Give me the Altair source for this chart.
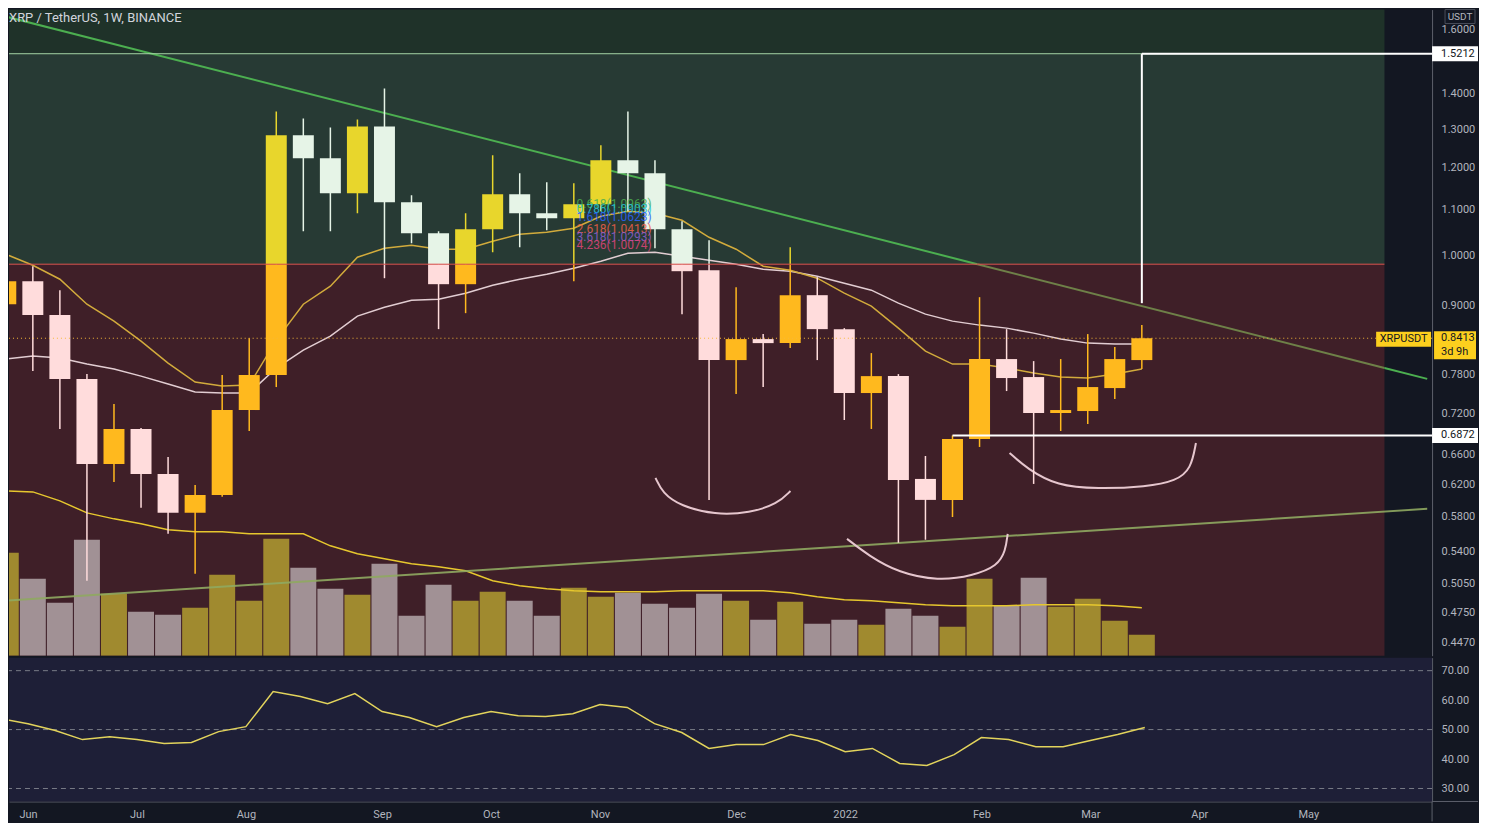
import math
import pandas as pd
import altair as alt

# ---------------- values ----------------
TITLE = "XRP / TetherUS, 1W, BINANCE"
FIRST_WEEK = "2021-05-31"          # weekly candles, Monday open

opens = [0.9031, 0.9474, 0.8828, 0.7727, 0.6476, 0.6965, 0.6342, 0.5849, 0.6072, 0.7245,
         0.7792, 1.2834, 1.2235, 1.1376, 1.3076, 1.1165, 1.0468, 0.9415, 1.0556, 1.1352,
         1.0912, 1.0799, 1.1118, 1.2184, 1.1859, 1.0556, 0.9693, 0.8039, 0.8398, 0.8328,
         0.9202, 0.8574, 0.7506, 0.7775, 0.6277, 0.6009, 0.6821, 0.8056, 0.7760, 0.7200,
         0.7230, 0.7584, 0.8039]
highs = [0.9633, 0.9774, 0.9298, 0.7808, 0.7336, 0.6979, 0.6571, 0.6199, 0.7792, 0.8415,
         1.3490, 1.3295, 1.3049, 1.3267, 1.4151, 1.1328, 1.0512, 1.0912, 1.2311, 1.1859,
         1.1639, 1.1615, 1.2570, 1.3490, 1.2184, 1.0732, 1.0317, 0.9356, 0.8486, 1.0168,
         0.9553, 0.8592, 0.8157, 0.7808, 0.6584, 0.6872, 0.9164, 0.8574, 0.8022, 0.8056,
         0.8486, 0.8259, 0.8646]
lows = [0.8901, 0.7857, 0.6965, 0.5077, 0.6238, 0.5910, 0.5599, 0.5152, 0.6047, 0.6936,
        0.7600, 1.0512, 1.0512, 1.0912, 0.9533, 1.0252, 0.8574, 0.8864, 1.0063, 1.0168,
        1.0534, 0.9474, 1.0958, 1.0958, 1.0147, 0.8846, 0.6009, 0.7490, 0.7600, 0.8242,
        0.8039, 0.7096, 0.6965, 0.5495, 0.5530, 0.5800, 0.6709, 0.7537, 0.6212, 0.6936,
        0.7037, 0.7413, 0.7890]
closes = [0.9474, 0.8828, 0.7727, 0.6476, 0.6965, 0.6342, 0.5849, 0.6072, 0.7245, 0.7792,
          1.2834, 1.2235, 1.1376, 1.3076, 1.1165, 1.0468, 0.9415, 1.0556, 1.1352, 1.0912,
          1.0799, 1.1118, 1.2184, 1.1859, 1.0556, 0.9673, 0.8039, 0.8398, 0.8328, 0.9202,
          0.8574, 0.7506, 0.7775, 0.6264, 0.6009, 0.6821, 0.8056, 0.7744, 0.7200, 0.7245,
          0.7600, 0.8056, 0.8413]
volumes = [2575, 1925, 1325, 2900, 1550, 1100, 1025, 1200, 2025, 1375,
           2925, 2200, 1675, 1525, 2300, 1000, 1775, 1375, 1600, 1375,
           1000, 1700, 1475, 1575, 1300, 1200, 1550, 1375, 900, 1350,
           800, 900, 775, 1175, 1000, 725, 1925, 1250, 1950, 1225,
           1425, 875, 525]
volume_ma = [4125, 4100, 3875, 3575, 3425, 3300, 3150, 3100, 3100, 3050,
             3050, 3050, 2750, 2550, 2425, 2300, 2225, 2125, 1875, 1750,
             1675, 1625, 1600, 1600, 1600, 1625, 1625, 1625, 1625, 1575,
             1475, 1400, 1375, 1325, 1275, 1250, 1250, 1250, 1275, 1275,
             1275, 1250, 1200]
ema_fast = [1.0021, 0.9794, 0.9513, 0.9031, 0.8718, 0.8363, 0.7989, 0.7680, 0.7616, 0.7632,
            0.8380, 0.9031, 0.9376, 0.9958, 1.0147, 1.0210, 1.0126, 1.0126, 1.0295, 1.0446,
            1.0490, 1.0577, 1.0845, 1.0958, 1.0912, 1.0755, 1.0381, 1.0126, 0.9774, 0.9693,
            0.9533, 0.9240, 0.8994, 0.8592, 0.8190, 0.7972, 0.7972, 0.7907, 0.7825, 0.7760,
            0.7744, 0.7808, 0.7890]
ema_slow = [0.8056, 0.8106, 0.8073, 0.7972, 0.7890, 0.7775, 0.7648, 0.7522, 0.7506, 0.7506,
            0.7907, 0.8208, 0.8450, 0.8809, 0.8975, 0.9107, 0.9126, 0.9240, 0.9395, 0.9513,
            0.9613, 0.9733, 0.9876, 1.0042, 1.0063, 0.9979, 0.9897, 0.9815, 0.9713, 0.9673,
            0.9573, 0.9434, 0.9298, 0.9050, 0.8846, 0.8718, 0.8646, 0.8592, 0.8503, 0.8398,
            0.8328, 0.8311, 0.8311]
rsi = [53.7, 52.0, 49.7, 46.6, 47.6, 46.6, 45.3, 45.6, 49.3, 51.0,
       62.9, 61.2, 58.8, 62.2, 56.1, 54.1, 51.0, 54.1, 56.1, 54.7,
       54.4, 55.4, 58.5, 57.5, 52.0, 49.0, 43.6, 44.9, 44.9, 48.3,
       46.3, 42.5, 43.6, 38.5, 37.8, 41.5, 47.3, 46.6, 44.2, 44.2,
       46.3, 48.3, 50.7]

price_ticks = [1.6, 1.4, 1.3, 1.2, 1.1, 1.0, 0.9, 0.78, 0.72, 0.66, 0.62, 0.58,
               0.54, 0.505, 0.475, 0.447]
rsi_ticks = [70, 60, 50, 40, 30]
rsi_levels = [70, 50, 30]
month_ticks = ["2021-06-07", "2021-07-05", "2021-08-02", "2021-09-06", "2021-10-04",
               "2021-11-01", "2021-12-06", "2022-01-03", "2022-02-07", "2022-03-07",
               "2022-04-04", "2022-05-02"]

# drawings (in weeks after FIRST_WEEK, and prices)
zone_lower, zone_upper = 0.9815, 1.5212
zone_weeks = [-1.0, 50.97]
view_weeks = [0.3034, 52.545]
trend_weeks = [0.0, 52.55]
upper_trend = [1.6436, 0.7731]
lower_trend = [0.4871, 0.5898]
measure_week, measure_low = 42, 0.9050
support_week, support_level = 35, 0.6872
last_price = 0.8413
fib_week = 21.10
fib_labels = ["0.618(1.0963)", "0.786(1.0903)", "1.618(1.0623)", "2.618(1.0413)",
              "3.618(1.0293)", "4.236(1.0074)"]
fib_prices = [1.1118, 1.1003, 1.0822, 1.0556, 1.0381, 1.0210]
fib_colors = ["#4caf50", "#26c6da", "#2962ff", "#f0604a", "#8e5fd0", "#e0457a"]
curve_weeks = [[24.02, 24.28, 24.94, 26.22, 27.51, 28.53, 29.01],
               [31.10, 31.91, 33.01, 34.47, 35.75, 36.67, 36.96, 37.04],
               [37.11, 37.77, 38.87, 40.34, 42.17, 43.27, 43.82, 44.00]]
curve_prices = [[0.6290, 0.6097, 0.5934, 0.5824, 0.5849, 0.5959, 0.6122],
                [0.5541, 0.5349, 0.5163, 0.5077, 0.5131, 0.5238, 0.5404, 0.5599],
                [0.6626, 0.6409, 0.6187, 0.6148, 0.6174, 0.6251, 0.6409, 0.6765]]

# colours
BG = "#131722"
AXIS_TXT = "#b2b5be"
DIVIDER = "#5d606b"
FONT = "Roboto"
CANDLE_COLORS = {"up_red": "#ffb91e", "down_red": "#ffdcdc",
                 "up_green": "#e8d62c", "down_green": "#e6f4e7"}
VOL_COLORS = {"up": "#a08a2f", "down": "#a19195"}
TREND_COLORS = ["#4caf50", "#6e8048", "#4caf50"]

# ---------------- helpers ----------------
T0 = pd.Timestamp(FIRST_WEEK, tz="UTC")


def wk_ts(w):
    return T0 + pd.Timedelta(days=7 * w)


def wk(w):
    return wk_ts(w).strftime("%Y-%m-%dT%H:%M:%SZ")


def ms(ts):
    return int(ts.timestamp() * 1000)


W, H1, H2 = 1425, 647, 144

x_scale = alt.Scale(type="utc", domain=[ms(wk_ts(view_weeks[0])), ms(wk_ts(view_weeks[1]))], nice=False)
price_scale = alt.Scale(type="log", domain=[0.43447, 1.6677], nice=False, zero=False)
vol_scale = alt.Scale(domain=[0, 16175], nice=False, zero=True)
rsi_scale = alt.Scale(domain=[25.59, 74.41], nice=False, zero=False)

price_axis = alt.Axis(orient="right", values=price_ticks, format=".4f", title=None, grid=False,
                      ticks=False, labelPadding=9, labelColor=AXIS_TXT, labelFontSize=11,
                      labelFont=FONT, domainColor=DIVIDER, labelOverlap=False, labelFlush=False)
rsi_axis = alt.Axis(orient="right", values=rsi_ticks, format=".2f", title=None, grid=False,
                    ticks=False, labelPadding=9, labelColor=AXIS_TXT, labelFontSize=11,
                    labelFont=FONT, domainColor=DIVIDER, labelOverlap=False, labelFlush=False)
x_axis = alt.Axis(values=[ms(pd.Timestamp(d, tz="UTC")) for d in month_ticks],
                  labelExpr="utcmonth(datum.value) == 0 ? utcFormat(datum.value, '%Y') : utcFormat(datum.value, '%b')",
                  title=None, grid=False, ticks=False, labelPadding=7, labelColor=AXIS_TXT,
                  labelFontSize=11, labelFont=FONT, domainColor=DIVIDER, labelOverlap=False,
                  labelFlush=False)


def PX(field):
    return alt.X(f"{field}:T", scale=x_scale, axis=None)


def PY(field):
    return alt.Y(f"{field}:Q", scale=price_scale, axis=price_axis)


COL = alt.Color("col:N", scale=None)

# ---------------- tables ----------------
n = len(opens)
dates = [wk(i) for i in range(n)]


def split(lo, hi):
    if hi <= zone_lower:
        return [(lo, hi, "red")]
    if lo >= zone_lower:
        return [(lo, hi, "green")]
    return [(lo, zone_lower, "red"), (zone_lower, hi, "green")]


body_rows, wick_rows = [], []
for i in range(n):
    o, h, l, c = opens[i], highs[i], lows[i], closes[i]
    direction = "up" if c >= o else "down"
    for a, b, z in split(min(o, c), max(o, c)):
        body_rows.append(dict(date=dates[i], lo=a, hi=b, col=CANDLE_COLORS[f"{direction}_{z}"]))
    for a, b, z in split(l, h):
        wick_rows.append(dict(date=dates[i], lo=a, hi=b, col=CANDLE_COLORS[f"{direction}_{z}"]))
body_df = pd.DataFrame(body_rows)
wick_df = pd.DataFrame(wick_rows)

vol_df = pd.DataFrame({"date": dates, "volume": volumes, "ma": volume_ma,
                       "col": [VOL_COLORS["up" if closes[i] >= opens[i] else "down"] for i in range(n)]})
ema_df = pd.DataFrame({"date": dates, "fast": ema_fast, "slow": ema_slow})
rsi_df = pd.DataFrame({"date": dates, "rsi": rsi})

zone_df = pd.DataFrame({
    "x0": [wk(zone_weeks[0])] * 3, "x1": [wk(zone_weeks[1])] * 3,
    "lo": [0.40, zone_lower, zone_upper], "hi": [zone_lower, zone_upper, 1.80],
    "col": ["#3f1f28", "#273a34", "#1f3229"]})

# upper trend line, coloured per zone it crosses
t_a, t_b = wk_ts(trend_weeks[0]), wk_ts(trend_weeks[1])
lp0, lp1 = math.log(upper_trend[0]), math.log(upper_trend[1])


def trend_at(t):
    return (t_a + (t_b - t_a) * t).strftime("%Y-%m-%dT%H:%M:%SZ"), math.exp(lp0 + (lp1 - lp0) * t)


t_cross = (math.log(zone_lower) - lp0) / (lp1 - lp0)
t_end = (wk_ts(zone_weeks[1]) - t_a) / (t_b - t_a)
up_rows = []
for k, (s0, s1) in enumerate([(0, t_cross), (t_cross, t_end), (t_end, 1)]):
    for t in (s0, s1):
        d, p = trend_at(t)
        up_rows.append(dict(date=d, price=p, seg=k, col=TREND_COLORS[k]))
upper_df = pd.DataFrame(up_rows)
lower_df = pd.DataFrame({"date": [wk(w) for w in trend_weeks], "price": lower_trend})

curve_rows = []
for k, (ws, ps) in enumerate(zip(curve_weeks, curve_prices)):
    for j, (w, p) in enumerate(zip(ws, ps)):
        curve_rows.append(dict(date=wk(w), price=p, curve=k, order=j))
curve_df = pd.DataFrame(curve_rows)

fib_df = pd.DataFrame({"date": [wk(fib_week)] * len(fib_labels), "price": fib_prices,
                       "label": fib_labels, "col": fib_colors})

hlines_df = pd.DataFrame({
    "x0": [wk(zone_weeks[0]), wk(zone_weeks[0]), wk(measure_week), wk(support_week)],
    "x1": [wk(zone_weeks[1]), wk(zone_weeks[1]), wk(view_weeks[1] + 1), wk(view_weeks[1] + 1)],
    "price": [zone_upper, zone_lower, zone_upper, support_level],
    "col": ["#a5d6a7", "#e0524f", "#ffffff", "#ffffff"],
    "w": [1, 1, 2, 2]})
measure_df = pd.DataFrame({"date": [wk(measure_week)], "lo": [measure_low], "hi": [zone_upper]})
last_df = pd.DataFrame({"price": [last_price]})


def box_path(w, h):
    r = h / w
    return f"M-1,-{r:.4f}L1,-{r:.4f}L1,{r:.4f}L-1,{r:.4f}Z"


# ---------------- price panel ----------------
zones = alt.Chart(zone_df).mark_rect(clip=True).encode(
    x=PX("x0"), x2="x1:T",
    y=alt.Y("lo:Q", scale=price_scale, axis=None), y2="hi:Q", color=COL)

vol_bars = alt.Chart(vol_df).mark_bar(size=26, clip=True).encode(
    x=PX("date"), y=alt.Y("volume:Q", scale=vol_scale, axis=None), color=COL)
vol_ma = alt.Chart(vol_df).mark_line(color="#e6c72e", strokeWidth=1.5, clip=True).encode(
    x=PX("date"), y=alt.Y("ma:Q", scale=vol_scale, axis=None))
volume_layer = alt.layer(vol_bars, vol_ma)

lower_line = alt.Chart(lower_df).mark_line(color="#8fa860", strokeWidth=2, opacity=0.9, clip=True).encode(
    x=PX("date"), y=PY("price"))
upper_line = alt.Chart(upper_df).mark_line(strokeWidth=2, clip=True).encode(
    x=PX("date"), y=PY("price"), detail="seg:N", color=COL)
slow_line = alt.Chart(ema_df).mark_line(color="#e2cdd2", strokeWidth=1.5, clip=True).encode(
    x=PX("date"), y=PY("slow"))
fast_line = alt.Chart(ema_df).mark_line(color="#d2ab3c", strokeWidth=1.5, clip=True).encode(
    x=PX("date"), y=PY("fast"))
curves = alt.Chart(curve_df).mark_line(color="#e6c6ce", strokeWidth=2, interpolate="basis", clip=True).encode(
    x=PX("date"), y=PY("price"), detail="curve:N", order="order:Q")
wicks = alt.Chart(wick_df).mark_rule(strokeWidth=1.5, clip=True).encode(
    x=PX("date"), y=PY("lo"), y2="hi:Q", color=COL)
bodies = alt.Chart(body_df).mark_bar(size=21, clip=True).encode(
    x=PX("date"), y=PY("lo"), y2="hi:Q", color=COL)
hlines = alt.Chart(hlines_df).mark_rule(clip=True).encode(
    x=PX("x0"), x2="x1:T", y=PY("price"), color=COL,
    strokeWidth=alt.StrokeWidth("w:Q", scale=None))
measure = alt.Chart(measure_df).mark_rule(color="#ffffff", strokeWidth=2, clip=True).encode(
    x=PX("date"), y=PY("lo"), y2="hi:Q")
last_line = alt.Chart(last_df).mark_rule(color="#f5b93a", strokeDash=[1, 3], strokeWidth=1).encode(
    y=PY("price"))
fib_text = alt.Chart(fib_df).mark_text(align="left", baseline="middle", fontSize=12, font=FONT,
                                       opacity=0.85).encode(
    x=PX("date"), y=PY("price"), text="label:N", color=COL)

# price labels at the axis
lbl_df = pd.DataFrame({"price": [zone_upper, support_level], "txt": ["1.5212", "0.6872"]})
white_boxes = alt.Chart(lbl_df).mark_point(shape=box_path(46, 15), size=46 * 46, filled=True,
                                           opacity=1, color="#ffffff", strokeWidth=0).encode(
    x=alt.value(1448), y=PY("price"))
white_txt = alt.Chart(lbl_df).mark_text(align="left", baseline="middle", fontSize=11, font=FONT,
                                        color="#131722").encode(
    x=alt.value(1434), y=PY("price"), text="txt:N")
last_lbl = pd.DataFrame({"price": [last_price], "txt": ["0.8413"], "left": ["3d 9h"], "sym": ["XRPUSDT"]})
yel_box = alt.Chart(last_lbl).mark_point(shape=box_path(42, 28), size=42 * 42, filled=True,
                                         opacity=1, color="#fccf1e", strokeWidth=0, yOffset=7).encode(
    x=alt.value(1448), y=PY("price"))
yel_txt = alt.Chart(last_lbl).mark_text(align="left", baseline="middle", fontSize=11, font=FONT,
                                        color="#131722").encode(
    x=alt.value(1434), y=PY("price"), text="txt:N")
yel_txt2 = alt.Chart(last_lbl).mark_text(align="left", baseline="middle", fontSize=11, font=FONT,
                                         color="#131722", dy=14).encode(
    x=alt.value(1434), y=PY("price"), text="left:N")
sym_box = alt.Chart(last_lbl).mark_point(shape=box_path(55, 15), size=55 * 55, filled=True,
                                         opacity=1, color="#fccf1e", strokeWidth=0, yOffset=1).encode(
    x=alt.value(1396.5), y=PY("price"))
sym_txt = alt.Chart(last_lbl).mark_text(align="center", baseline="middle", fontSize=11, font=FONT,
                                        color="#131722", dy=1).encode(
    x=alt.value(1396.5), y=PY("price"), text="sym:N")

head_df = pd.DataFrame({"t": [TITLE], "u": ["USDT"]})
header = alt.Chart(head_df).mark_text(align="left", baseline="middle", fontSize=13, font=FONT,
                                      color="#d1d4dc").encode(
    x=alt.value(0), y=alt.value(8), text="t:N")
usdt_box = alt.Chart(head_df).mark_rect(fill=BG, stroke="#4a4e5a", strokeWidth=1).encode(
    x=alt.value(1438), x2=alt.value(1468), y=alt.value(0), y2=alt.value(14))
usdt_txt = alt.Chart(head_df).mark_text(align="center", baseline="middle", fontSize=10, font=FONT,
                                        color=AXIS_TXT).encode(
    x=alt.value(1453), y=alt.value(7.5), text="u:N")

price_layer = alt.layer(
    lower_line, upper_line, slow_line, fast_line, curves, wicks, bodies, hlines, measure,
    last_line, fib_text, white_boxes, white_txt, yel_box, yel_txt, yel_txt2, sym_box, sym_txt,
    header, usdt_box, usdt_txt)

price_panel = alt.layer(zones, volume_layer, price_layer).resolve_scale(
    y="independent").properties(width=W, height=H1)

# ---------------- RSI panel ----------------
dummy = pd.DataFrame({"a": [0]})
rsi_bg = alt.Chart(dummy).mark_rect(color="#1e1f37").encode(
    x=alt.value(0), x2=alt.value(W), y=alt.value(0), y2=alt.value(H2))
lvl_df = pd.DataFrame({"level": rsi_levels})
rsi_lvls = alt.Chart(lvl_df).mark_rule(color="#787b86", strokeDash=[5, 4], strokeWidth=1).encode(
    y=alt.Y("level:Q", scale=rsi_scale, axis=rsi_axis))
rsi_line = alt.Chart(rsi_df).mark_line(color="#e2d35c", strokeWidth=1.5, clip=True).encode(
    x=alt.X("date:T", scale=x_scale, axis=x_axis),
    y=alt.Y("rsi:Q", scale=rsi_scale, axis=rsi_axis))
ext_h = alt.Chart(dummy).mark_rule(color=DIVIDER, strokeWidth=1).encode(
    x=alt.value(W), x2=alt.value(W + 46), y=alt.value(H2))
ext_v = alt.Chart(dummy).mark_rule(color=DIVIDER, strokeWidth=1).encode(
    x=alt.value(W), y=alt.value(H2), y2=alt.value(H2 + 20))

rsi_panel = alt.layer(rsi_bg, rsi_lvls, rsi_line, ext_h, ext_v).properties(width=W, height=H2)

chart = alt.vconcat(price_panel, rsi_panel, spacing=2, padding=0).configure(
    background=BG, font=FONT).configure_view(stroke=None)

chart.save("out.html", embed_options={"renderer": "svg", "actions": False})
